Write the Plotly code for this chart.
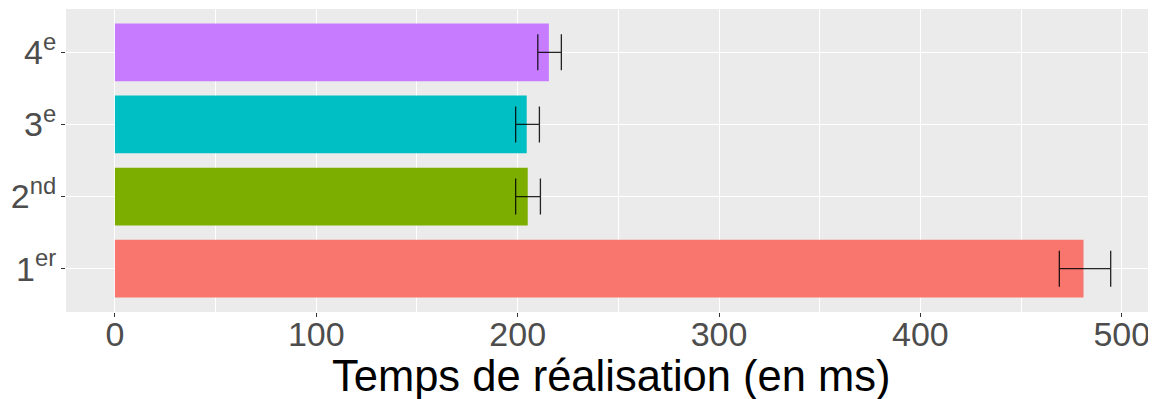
import plotly.graph_objects as go

categories = ["1er", "2nd", "3e", "4e"]
tick_labels = ["1<sup>er</sup>", "2<sup>nd</sup>", "3<sup>e</sup>", "4<sup>e</sup>"]
means = [481, 205, 204.5, 215.5]
err_low = [469, 199, 199, 210]
err_high = [494.5, 211.3, 210.8, 221.7]
colors = ["#F8766D", "#7CAE00", "#00BFC4", "#C77CFF"]
x_ticks = [0, 100, 200, 300, 400, 500]
x_title = "Temps de réalisation (en ms)"

fig = go.Figure()
fig.add_trace(go.Bar(
    x=means, y=categories, orientation="h",
    marker=dict(color=colors, line=dict(width=0)),
    width=0.8,
    error_x=dict(
        type="data", symmetric=False,
        array=[h - m for h, m in zip(err_high, means)],
        arrayminus=[m - l for m, l in zip(means, err_low)],
        color="rgba(0,0,0,0.85)", thickness=1.3, width=18,
    ),
    showlegend=False,
))

fig.update_layout(
    width=1148, height=391,
    margin=dict(l=58, r=0, t=1, b=87),
    paper_bgcolor="white", plot_bgcolor="#EBEBEB",
    font=dict(family="Liberation Sans, Arial, sans-serif"),
    bargap=0.2,
    annotations=[dict(
        text=x_title, xref="paper", yref="paper", x=0.5, y=-0.212,
        xanchor="center", yanchor="middle", showarrow=False,
        font=dict(size=43.5, color="black"),
    )],
)
fig.update_xaxes(
    range=[-24.3, 517], tickvals=x_ticks, ticktext=[str(v) for v in x_ticks],
    showgrid=True, gridcolor="white", gridwidth=1.4,
    minor=dict(tickvals=[50, 150, 250, 350, 450], showgrid=True, gridcolor="white", gridwidth=0.7),
    zeroline=False, ticks="outside", ticklen=4, tickcolor="#333333", tickwidth=1,
    tickfont=dict(size=34, color="#4D4D4D"), ticklabelstandoff=-12,
    showline=False, automargin=False,
)
fig.update_yaxes(
    categoryorder="array", categoryarray=categories,
    tickvals=categories, ticktext=tick_labels,
    range=[-0.6, 3.6],
    showgrid=True, gridcolor="white", gridwidth=1.4,
    ticks="outside", ticklen=4, tickcolor="#333333", tickwidth=1,
    tickfont=dict(size=34, color="#4D4D4D"), ticklabelstandoff=-2,
    showline=False, zeroline=False, automargin=False,
)

fig.write_html("out.html")
